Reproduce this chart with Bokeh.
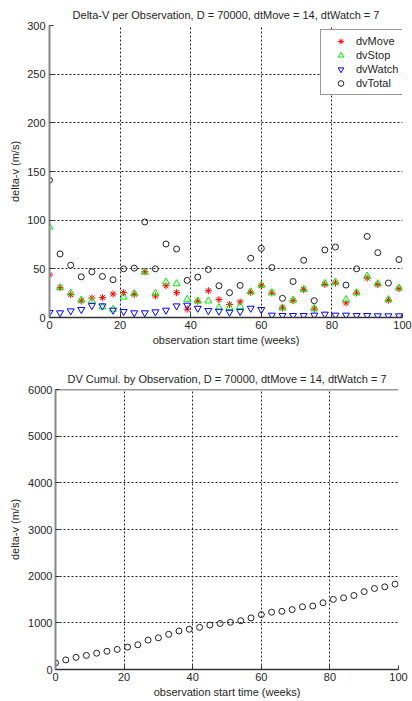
from bokeh.plotting import figure
from bokeh.models import Range1d, FixedTicker, Legend, LegendItem, Span
from bokeh.embed import file_html
from bokeh.resources import INLINE

weeks = [0, 3, 6, 9, 12, 15, 18, 21, 24, 27, 30, 33, 36, 39, 42, 45, 48, 51,
         54, 57, 60, 63, 66, 69, 72, 75, 78, 81, 84, 87, 90, 93, 96, 99]
dv_move = [43.9, 30.6, 23.5, 17.0, 20.0, 20.4, 24.1, 25.5, 23.8, 47.0, 22.1, 32.6,
           25.5, 8.5, 16.7, 27.5, 18.4, 13.3, 16.0, 25.8, 32.6, 25.2, 9.9, 17.3,
           28.6, 8.8, 34.0, 35.4, 15.0, 25.2, 40.5, 33.7, 17.7, 29.6]
dv_stop = [93.0, 30.6, 25.2, 18.0, 17.0, 10.9, 8.5, 21.0, 24.5, 46.6, 24.8, 36.4,
           34.7, 18.7, 17.0, 17.0, 10.2, 10.2, 11.2, 26.5, 33.3, 25.5, 9.9, 18.0,
           28.9, 9.5, 35.0, 36.4, 18.4, 25.5, 42.5, 34.7, 18.4, 30.3]
dv_watch = [5.1, 4.8, 6.8, 8.2, 12.2, 11.9, 7.5, 6.1, 4.8, 4.8, 5.8, 7.5,
            11.9, 12.6, 9.5, 7.1, 6.5, 5.4, 6.1, 9.5, 8.2, 2.4, 2.0, 2.0,
            2.0, 2.4, 3.4, 2.4, 2.4, 2.0, 2.0, 1.7, 1.7, 1.7]
dv_total = [141.0, 65.3, 53.7, 41.8, 46.9, 42.2, 38.8, 50.0, 50.7, 98.2, 50.0, 75.5,
            70.4, 38.1, 41.5, 49.3, 32.6, 25.5, 33.0, 60.9, 71.0, 51.3, 19.7, 37.0,
            58.8, 17.3, 69.4, 72.4, 33.3, 50.0, 83.3, 66.6, 35.4, 59.5]
dv_cumul = [141, 206, 260, 302, 349, 391, 430, 480, 530, 629, 679, 754,
            825, 863, 904, 953, 986, 1012, 1045, 1105, 1176, 1228, 1247, 1284,
            1343, 1361, 1430, 1502, 1536, 1586, 1669, 1736, 1771, 1830]

x_ticks = [0, 20, 40, 60, 80, 100]
y_ticks_top = [0, 50, 100, 150, 200, 250, 300]
y_ticks_bot = [0, 1000, 2000, 3000, 4000, 5000, 6000]

FONT = "Liberation Sans"
TXT = "#262626"


def style(p, xt, yt, tick_standoff_y, label_standoff_y):
    p.title.text_font = FONT
    p.title.text_font_size = "11px"
    p.title.text_font_style = "normal"
    p.title.text_color = TXT
    p.title.align = "center"
    p.title.offset = 7
    p.outline_line_color = None
    p.xaxis.ticker = FixedTicker(ticks=xt)
    p.yaxis.ticker = FixedTicker(ticks=yt)
    for ax in (p.xaxis[0], p.yaxis[0]):
        ax.major_tick_in = 4
        ax.major_tick_out = 0
        ax.minor_tick_line_color = None
        ax.major_label_text_font = FONT
        ax.major_label_text_font_size = "11px"
        ax.major_label_text_color = TXT
        ax.axis_label_text_font = FONT
        ax.axis_label_text_font_size = "11px"
        ax.axis_label_text_font_style = "normal"
        ax.axis_label_text_color = TXT
        ax.major_tick_line_color = "#333333"
    p.xaxis.axis_line_color = "#333333"
    p.xaxis.axis_line_width = 1.5
    p.yaxis.axis_line_color = "#888888"
    p.yaxis.axis_line_width = 2
    p.xaxis.major_label_standoff = 3
    p.xaxis.axis_label_standoff = 2
    p.yaxis.major_label_standoff = tick_standoff_y
    p.yaxis.axis_label_standoff = label_standoff_y
    for g in (p.xgrid[0], p.ygrid[0]):
        g.grid_line_color = "#222222"
        g.grid_line_dash = "2 2"
        g.grid_line_width = 1
    p.xaxis.axis_label = "observation start time (weeks)"
    p.yaxis.axis_label = "delta-v (m/s)"


p1 = figure(width=412, height=350, output_backend="svg", toolbar_location=None,
            x_range=Range1d(0, 100), y_range=Range1d(0, 300),
            min_border_left=49, min_border_right=10, min_border_top=25, min_border_bottom=33,
            title="Delta-V per Observation, D = 70000, dtMove = 14, dtWatch = 7")
style(p1, x_ticks, y_ticks_top, 4, 3)

r_move = p1.scatter(weeks, dv_move, marker="asterisk", size=7, line_color="#ff0000", line_width=1)
r_stop = p1.scatter(weeks, dv_stop, marker="triangle", size=7, fill_color=None,
                    line_color="#00ee00", line_width=1)
r_watch = p1.scatter(weeks, dv_watch, marker="inverted_triangle", size=7, fill_color=None,
                     line_color="#0000ff", line_width=1)
r_total = p1.scatter(weeks, dv_total, marker="circle", size=6, fill_color=None,
                     line_color="#222222", line_width=1)

legend = Legend(items=[LegendItem(label="dvMove", renderers=[r_move]),
                       LegendItem(label="dvStop", renderers=[r_stop]),
                       LegendItem(label="dvWatch", renderers=[r_watch]),
                       LegendItem(label="dvTotal", renderers=[r_total])],
                location=(271, 222), margin=0, padding=4, spacing=0,
                glyph_width=31, glyph_height=14, label_height=14, label_standoff=0,
                label_text_font=FONT, label_text_font_size="11px", label_text_color=TXT,
                border_line_color="#333333", border_line_width=1,
                background_fill_color="white", background_fill_alpha=1.0)
p1.add_layout(legend)

p2 = figure(width=412, height=351, output_backend="svg", toolbar_location=None,
            x_range=Range1d(0, 100), y_range=Range1d(0, 6000),
            min_border_left=55, min_border_right=14, min_border_top=39, min_border_bottom=32,
            title="DV Cumul. by Observation, D = 70000, dtMove = 14, dtWatch = 7")
style(p2, x_ticks, y_ticks_bot, 3, 4)
p2.add_layout(Span(location=6000, dimension="width", line_color="#333333", line_width=1.5))
p2.scatter(weeks, dv_cumul, marker="circle", size=6, fill_color=None,
           line_color="#222222", line_width=1)

open("out.html", "w").write(file_html([p1, p2], INLINE))
